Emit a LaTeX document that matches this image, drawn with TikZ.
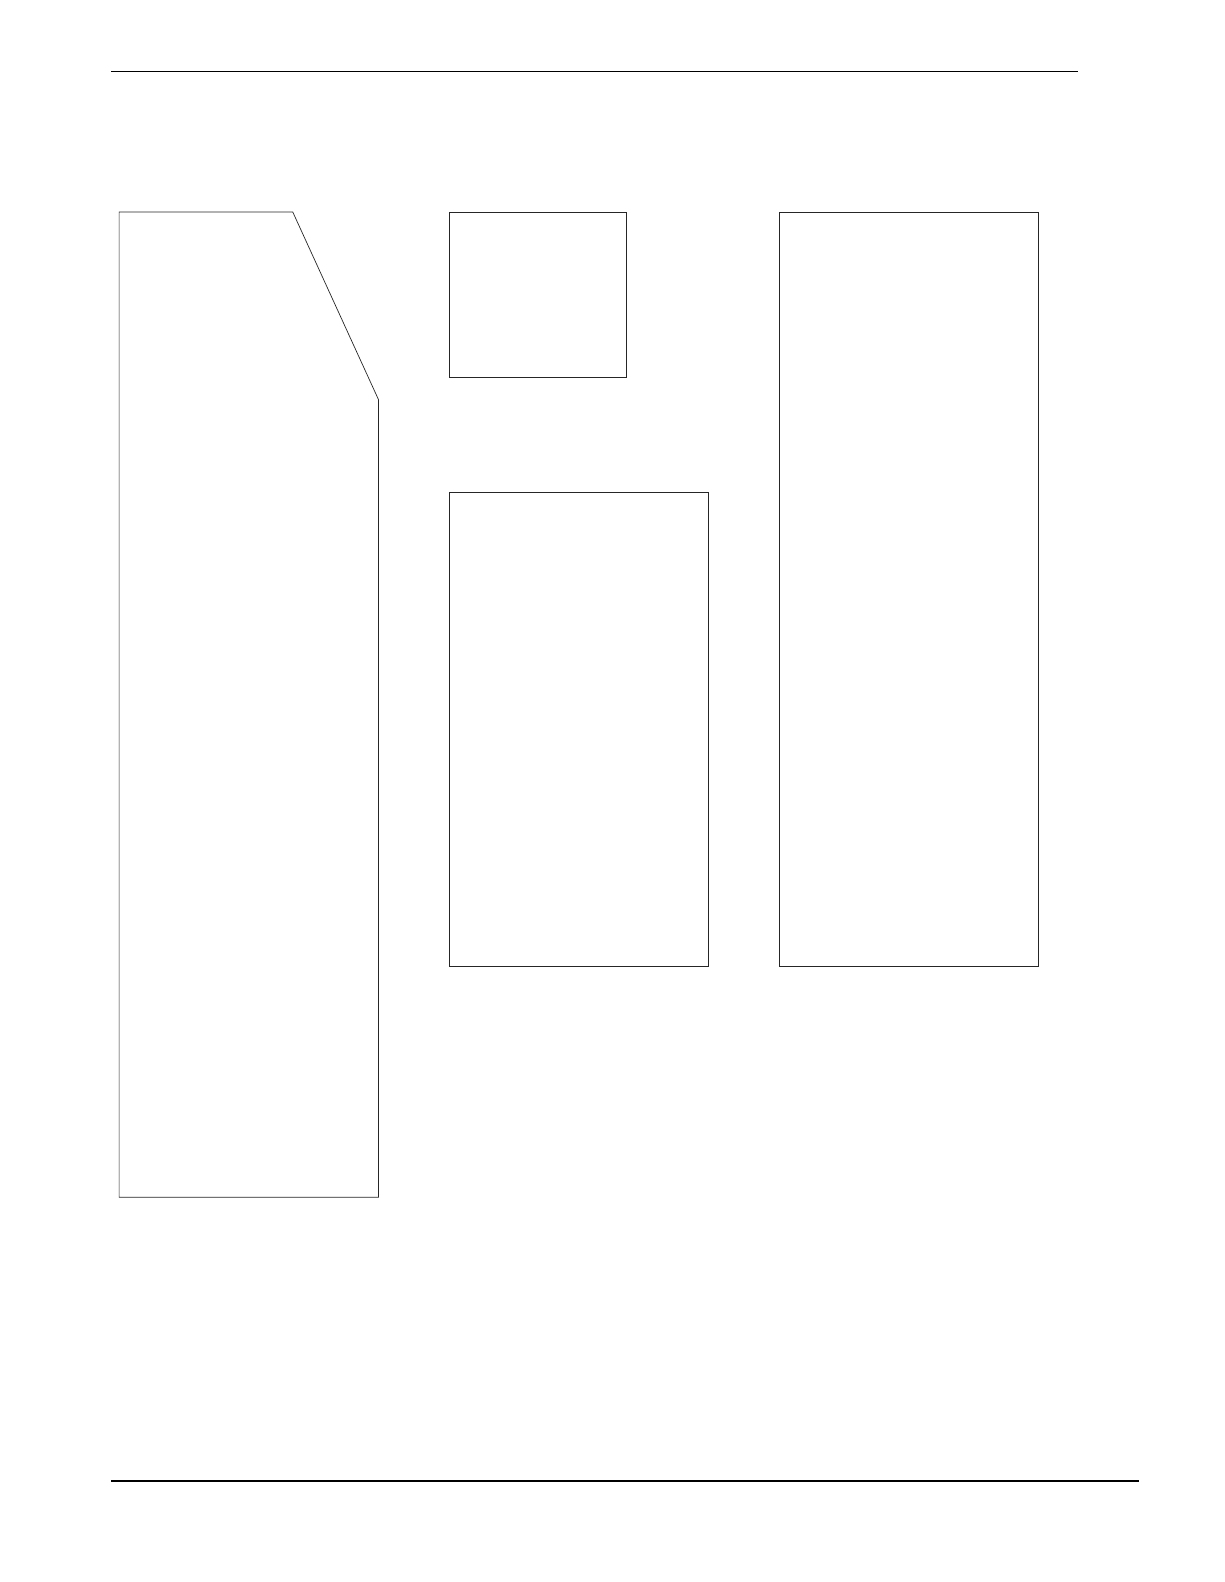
\documentclass[tikz,border=0pt]{standalone}
\begin{document}
\begin{tikzpicture}[x=1pt,y=-1pt,
  rule/.style={line width=1.2pt,black},
  outline/.style={line width=0.7pt,black!85}]
\useasboundingbox[fill=white] (0,0) rectangle (1225,1582);
\begin{scope}[x=1.0095pt,y=-1.0095pt]
\draw[rule] (110,71) -- (1068,71);
\draw[rule] (110,1467) -- (1128,1467);
\draw[outline] (118,210) -- (290,210) -- (375,396) -- (375,1186) -- (118,1186) -- cycle;
\draw[outline] (445,210) rectangle (620,374);
\draw[outline] (445,488) rectangle (702,957);
\draw[outline] (772,210) rectangle (1029,957);
\end{scope}
\end{tikzpicture}
\end{document}
